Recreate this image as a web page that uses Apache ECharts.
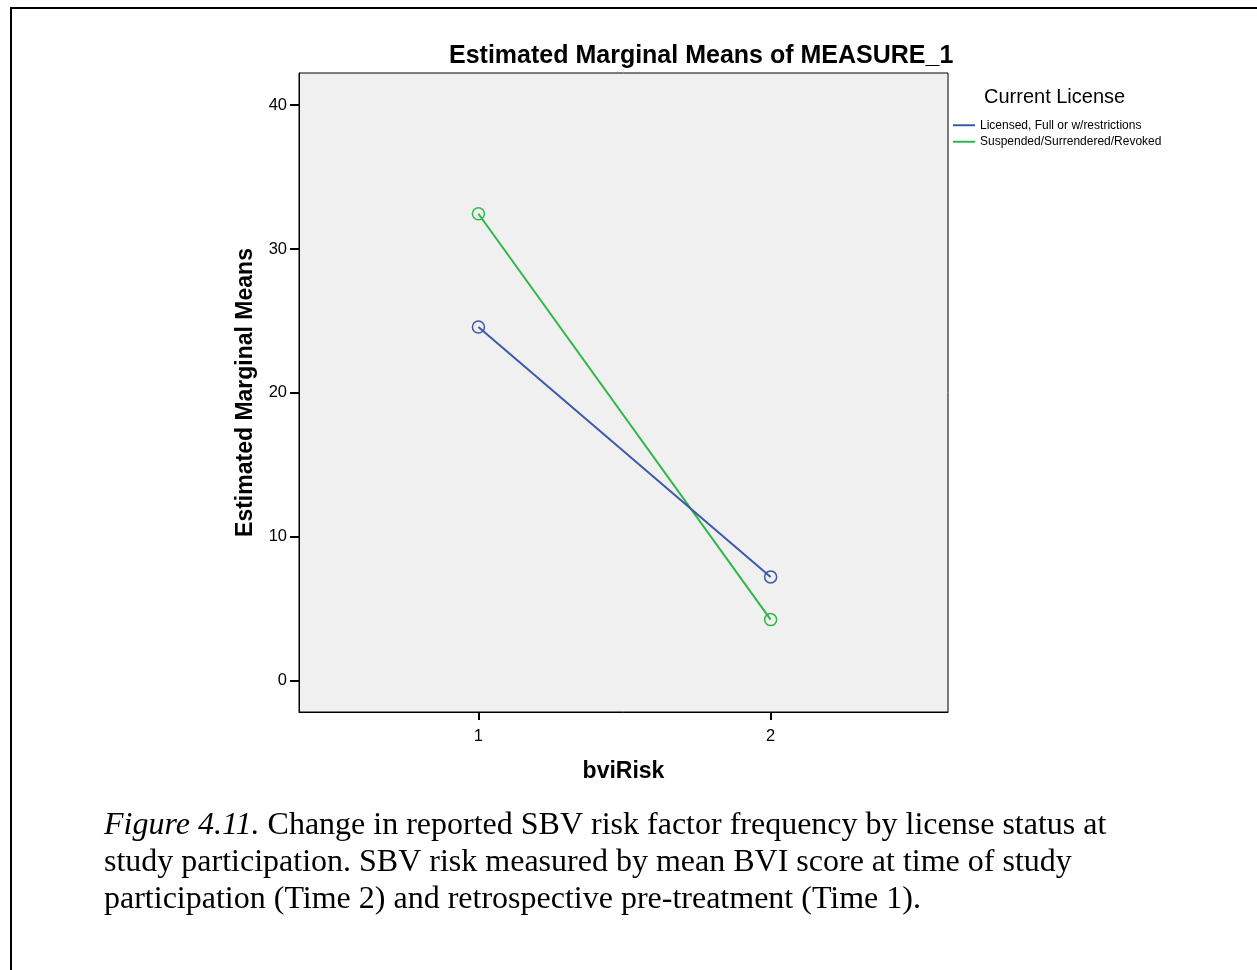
<!DOCTYPE html>
<html>
<head>
<meta charset="utf-8">
<script src="https://cdn.jsdelivr.net/npm/echarts@6/dist/echarts.min.js"></script>
<style>
  html, body { margin: 0; padding: 0; background: #fff; }
  #chart { width: 1257px; height: 970px; }
</style>
</head>
<body>
<div id="chart"></div>
<script>
// ---- data ----
const categories = [1, 2];                  // bviRisk levels
const seriesNames = ['Licensed, Full or w/restrictions', 'Suspended/Surrendered/Revoked'];
const licensedValues = [24.58, 7.21];
const suspendedValues = [32.45, 4.24];
const xTickValues = [1, 2];
const yTickValues = [0, 10, 20, 30, 40];
const captionLines = [
  ['Figure 4.11.', ' Change in reported SBV risk factor frequency by license status at'],
  ['', 'study participation. SBV risk measured by mean BVI score at time of study'],
  ['', 'participation (Time 2) and retrospective pre-treatment (Time 1).']
];

const colors = ['#3e58ac', '#2eb848'];
const chart = echarts.init(document.getElementById('chart'), null, { renderer: 'canvas' });

function pairs(vals) { return categories.map((c, i) => [c, vals[i]]); }

const captionText = captionLines.map(l => (l[0] ? '{i|' + l[0] + '}' : '') + '{n|' + l[1] + '}').join('\n');

const option = {
  backgroundColor: '#ffffff',
  animation: false,
  title: [
    {
      text: 'Estimated Marginal Means of MEASURE_1',
      left: 449, top: 44, padding: 0,
      textStyle: { fontFamily: 'Liberation Sans', fontWeight: 'bold', fontSize: 25, color: '#000' }
    },
    {
      text: 'Current License',
      left: 984, top: 87, padding: 0,
      textStyle: { fontFamily: 'Liberation Sans', fontWeight: 'normal', fontSize: 20, color: '#000' }
    }
  ],
  legend: {
    orient: 'vertical',
    left: 953, top: 118,
    padding: 0,
    itemWidth: 22, itemHeight: 2, itemGap: 2,
    icon: 'rect',
    textStyle: { fontFamily: 'Liberation Sans', fontSize: 12, color: '#000', lineHeight: 14.5, padding: [0, 0, 0, 0] },
    data: seriesNames.map((n, i) => ({ name: n, itemStyle: { color: colors[i], borderWidth: 0 } }))
  },
  grid: {
    left: 299, top: 73, width: 649, height: 639,
    show: true, backgroundColor: '#f0f0f0', borderColor: '#000', borderWidth: 1
  },
  xAxis: {
    type: 'value',
    min: 0.386, max: 2.607,
    name: 'bviRisk',
    nameLocation: 'middle',
    nameGap: 48,
    nameTextStyle: { fontFamily: 'Liberation Sans', fontWeight: 'bold', fontSize: 23, color: '#000' },
    axisLine: { show: true, onZero: false, lineStyle: { color: '#000', width: 1 } },
    axisTick: { show: true, customValues: xTickValues, length: 8, lineStyle: { color: '#000', width: 2 } },
    axisLabel: { customValues: xTickValues, margin: 16, fontFamily: 'Liberation Sans', fontSize: 16.5, color: '#000' },
    splitLine: { show: false }
  },
  yAxis: {
    type: 'value',
    min: -2.18, max: 42.23,
    name: 'Estimated Marginal Means',
    nameLocation: 'middle',
    nameGap: 42,
    nameRotate: 90,
    nameTextStyle: { fontFamily: 'Liberation Sans', fontWeight: 'bold', fontSize: 23, color: '#000' },
    axisLine: { show: true, onZero: false, lineStyle: { color: '#000', width: 1 } },
    axisTick: { show: true, customValues: yTickValues, length: 9, lineStyle: { color: '#000', width: 2 } },
    axisLabel: { customValues: yTickValues, margin: 12, fontFamily: 'Liberation Sans', fontSize: 16.5, color: '#000', padding: [3, 0, 0, 0] },
    splitLine: { show: false }
  },
  series: [
    {
      name: seriesNames[0], type: 'line',
      data: pairs(licensedValues),
      symbol: 'circle', symbolSize: 12,
      itemStyle: { color: 'rgba(0,0,0,0)', borderColor: colors[0], borderWidth: 1.5 },
      lineStyle: { color: colors[0], width: 2 },
      z: 3
    },
    {
      name: seriesNames[1], type: 'line',
      data: pairs(suspendedValues),
      symbol: 'circle', symbolSize: 12,
      itemStyle: { color: 'rgba(0,0,0,0)', borderColor: colors[1], borderWidth: 1.5 },
      lineStyle: { color: colors[1], width: 2 },
      z: 2
    }
  ],
  graphic: [
    { type: 'line', shape: { x1: 10, y1: 8, x2: 1257, y2: 8 }, style: { stroke: '#000', lineWidth: 2 } },
    { type: 'line', shape: { x1: 11, y1: 7, x2: 11, y2: 970 }, style: { stroke: '#000', lineWidth: 2 } },
    {
      type: 'text', left: 104, top: 807,
      style: {
        text: captionText,
        fill: '#000',
        font: '32px "Liberation Serif"',
        lineHeight: 37,
        rich: {
          i: { fontFamily: 'Liberation Serif', fontStyle: 'italic', fontSize: 32, lineHeight: 37, fill: '#000' },
          n: { fontFamily: 'Liberation Serif', fontSize: 32, lineHeight: 37, fill: '#000' }
        }
      }
    }
  ]
};
chart.setOption(option);
</script>
</body>
</html>
